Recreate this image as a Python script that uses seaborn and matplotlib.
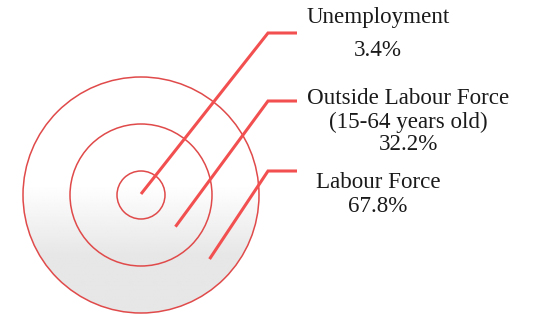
import numpy as np
import matplotlib
matplotlib.use("Agg")
import matplotlib.pyplot as plt
from matplotlib.patches import Circle
import seaborn as sns

# ---- data ----
categories = ["Unemployment", "Outside Labour Force", "Labour Force"]
sublabels = ["", "(15-64 years old)", ""]
values = [3.4, 32.2, 67.8]

sns.set_theme(style="white")
plt.rcParams['font.family'] = ['Liberation Serif', 'DejaVu Serif']

W, H = 533, 314
fig = plt.figure(figsize=(W / 100, H / 100), dpi=100)
ax = fig.add_axes([0, 0, 1, 1])
ax.set_xlim(0, W)
ax.set_ylim(H, 0)
ax.set_aspect('equal')
ax.axis('off')

cx, cy = 141, 195
radii = [24, 71, 118]
edge_col = '#e04a4a'
line_col = '#f25050'
text_col = '#1a1a1a'

# gradient background clipped to outer circle
ys = np.linspace(0, H, 400)
t = np.clip((ys - 185) / 70.0, 0, 1)
grad = 1.0 - t * (1.0 - 0.905)
img = np.tile(grad[:, None], (1, 10))
im = ax.imshow(img, cmap='gray', vmin=0, vmax=1, extent=[cx - 120, cx + 120, H, 0],
               aspect='auto', zorder=1, interpolation='bilinear')
clip = Circle((cx, cy), radii[-1], transform=ax.transData, facecolor='none', edgecolor='none')
ax.add_patch(clip)
im.set_clip_path(clip)

for r in radii:
    ax.add_patch(Circle((cx, cy), r, facecolor='none', edgecolor=edge_col, lw=1.1, zorder=3))

# leader lines
ang = np.deg2rad(43.5)
start_r = [0, (radii[0] + radii[1]) / 2, (radii[1] + radii[2]) / 2]
end_y = [33, 101, 171]
elbow_x, end_x = 268, 297
for sr, ey in zip(start_r, end_y):
    sx = cx + sr * np.cos(ang)
    sy = cy + sr * np.sin(ang) - 1
    ax.plot([sx, elbow_x, end_x], [sy, ey, ey], color=line_col, lw=2.2,
            solid_capstyle='butt', solid_joinstyle='miter', zorder=4)

fs = 16.6
# labels
label_pos = [(378, 17), (408, 98), (378, 183)]
value_pos = [(378, 51), (408, 145), (378, 206)]
for cat, sub, v, (lx, ly), (vx, vy) in zip(categories, sublabels, values, label_pos, value_pos):
    ax.text(lx, ly, cat, ha='center', va='center', fontsize=fs, color=text_col, zorder=5)
    if sub:
        ax.text(lx, ly + 24, sub, ha='center', va='center', fontsize=fs, color=text_col, zorder=5)
    ax.text(vx, vy, f"{v}%", ha='center', va='center', fontsize=fs, color=text_col, zorder=5)

fig.savefig('out.png', dpi=100)
